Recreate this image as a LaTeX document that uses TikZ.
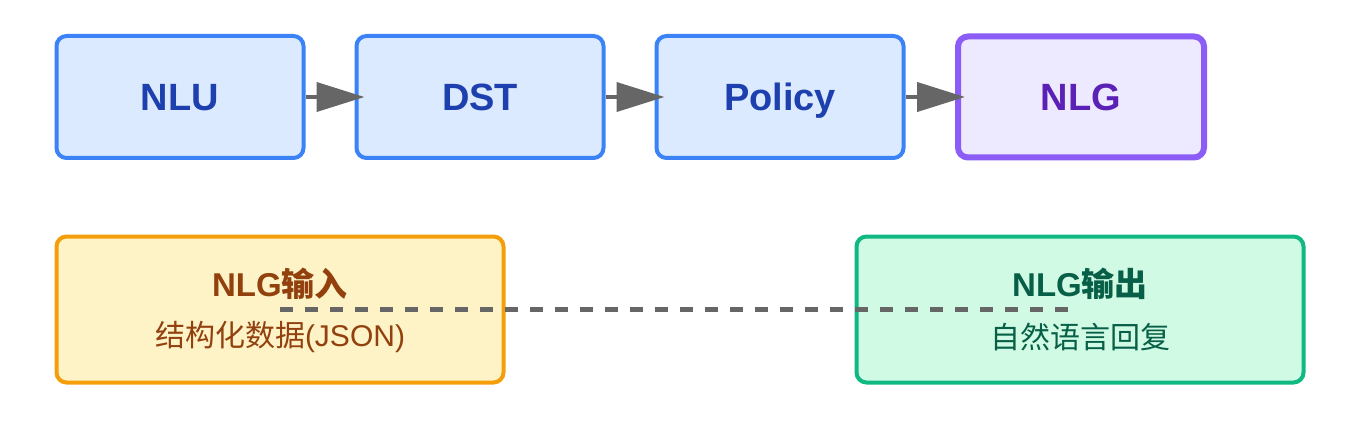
\documentclass[tikz,border=0pt]{standalone}
\usepackage{fontspec}
\setmainfont{Liberation Sans}
\newfontfamily\cjk{Noto Sans CJK SC}
\usetikzlibrary{arrows.meta}
\definecolor{bluefill}{HTML}{DBEAFE}
\definecolor{blueline}{HTML}{3B82F6}
\definecolor{bluetext}{HTML}{1E40AF}
\definecolor{purpfill}{HTML}{EDE9FE}
\definecolor{purpline}{HTML}{8B5CF6}
\definecolor{purptext}{HTML}{5B21B6}
\definecolor{yelfill}{HTML}{FEF3C7}
\definecolor{yelline}{HTML}{F59E0B}
\definecolor{yeltext}{HTML}{92400E}
\definecolor{grnfill}{HTML}{D1FAE5}
\definecolor{grnline}{HTML}{10B981}
\definecolor{grntext}{HTML}{065F46}
\definecolor{arrowgray}{HTML}{666666}
\tikzset{
  stage/.style={draw=blueline, fill=bluefill, line width=4pt, rounded corners=10pt,
    minimum width=247pt, minimum height=122pt, inner sep=0pt,
    text height=27pt, text depth=0pt,
    text=bluetext, font=\fontsize{38}{40}\selectfont\bfseries},
  infobox/.style={line width=4pt, rounded corners=10pt,
    minimum width=447pt, minimum height=146pt, inner sep=0pt},
  titletext/.style={inner sep=0pt, font=\fontsize{33}{36}\selectfont\bfseries},
  subtext/.style={inner sep=0pt, font=\fontsize{30}{32}\selectfont},
  flow/.style={draw=arrowgray, line width=4pt,
    -{Triangle[length=48pt,width=29pt]}, shorten >=-10pt},
  link/.style={draw=arrowgray, line width=4.5pt, dash pattern=on 13pt off 12pt,
    shorten >=12pt}
}
\begin{document}
\begin{tikzpicture}[x=1pt,y=-1pt]
\useasboundingbox (0,0) rectangle (1362,422);
\node[stage] (nlu) at (180,97) {NLU};
\node[stage] (dst) at (480,97) {DST};
\node[stage] (pol) at (780,97) {Policy};
\node[stage, draw=purpline, fill=purpfill, text=purptext, line width=6pt, minimum width=246pt, minimum height=121pt] (nlg) at (1081,97) {NLG};
\draw[flow] (nlu.east) -- (dst.west);
\draw[flow] (dst.east) -- (pol.west);
\draw[flow] (pol.east) -- (nlg.west);
\node[infobox, draw=yelline, fill=yelfill] (in) at (280,309.5) {};
\node[infobox, draw=grnline, fill=grnfill] (out) at (1080,309.5) {};
\node[titletext, text=yeltext] (intitle) at (280,284) {NLG{\cjk 输入}};
\node[subtext, text=yeltext] (insub) at (280,337) {{\cjk 结构化数据}(JSON)};
\node[titletext, text=grntext] (outtitle) at (1080,284) {NLG{\cjk 输出}};
\node[subtext, text=grntext] (outsub) at (1080,337) {\cjk 自然语言回复};
\draw[link] (in.center) -- (out.center);
\end{tikzpicture}
\end{document}
